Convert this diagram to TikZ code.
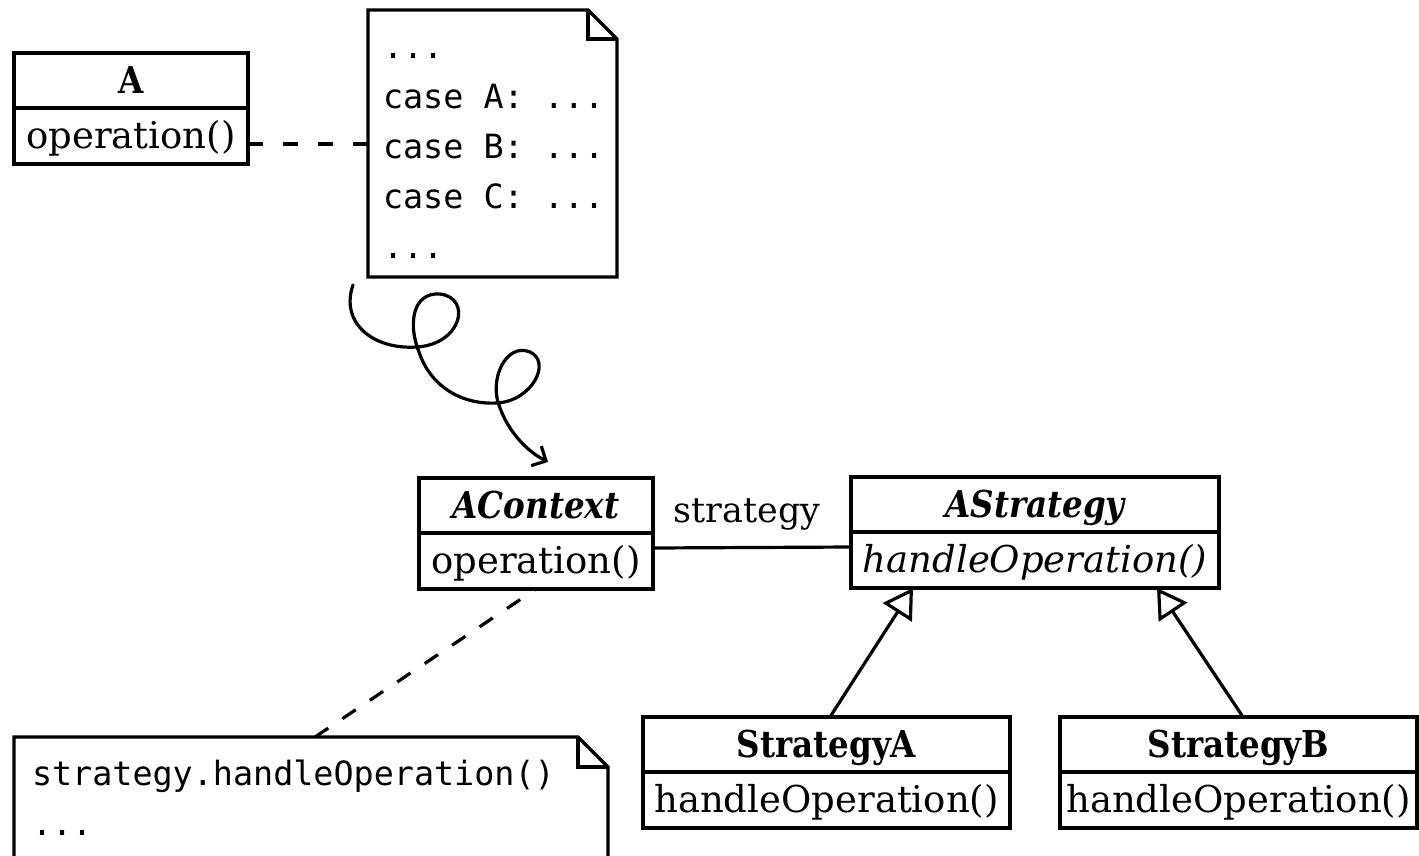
\documentclass[tikz,border=0pt]{standalone}
\usepackage{fontspec}
\setmainfont{DejaVu Serif}
\setmonofont{DejaVu Sans Mono}
\newfontfamily\titlefont[FakeStretch=0.88]{DejaVu Serif}
\usetikzlibrary{arrows.meta}

% struts that fix the baselines inside class compartments and notes
\newcommand\cstrut{\rule[-15pt]{0pt}{55pt}}
\newcommand\nstrut{\rule[-10.5pt]{0pt}{50pt}}
\newcommand\mstrut{\rule[-14pt]{0pt}{50pt}}
% one full monospace cell of blank space
\newcommand\msp{\hphantom{x}}

% outline of a UML note with a folded top-right corner
\newcommand\noteoutline[2]{%
  \draw[ink] (#1.north west) -- ([xshift=-#2]#1.north east)
    -- ([yshift=-#2]#1.north east) -- (#1.south east)
    -- (#1.south west) -- cycle;
  \draw[ink] ([xshift=-#2]#1.north east) |- ([yshift=-#2]#1.north east);}

\tikzset{
  ink/.style={line width=3.2pt, line join=miter},
  compartment/.style={draw, ink, inner sep=0pt, outer sep=0pt,
    minimum height=#1, anchor=north west,
    font=\fontsize{37}{40}\selectfont},
  titlepart/.style={compartment=55pt,
    font=\titlefont\bfseries\fontsize{37}{40}\selectfont},
  oppart/.style={compartment=56pt},
  notebody/.style={inner xsep=17pt, inner ysep=0pt, outer sep=0pt,
    anchor=north west, align=left,
    font=\ttfamily\fontsize{33.4}{50}\selectfont},
  depline/.style={ink, dash pattern=on 15pt off 20pt},
  ctxline/.style={ink, dash pattern=on 16pt off 17pt},
  assoc/.style={ink},
  generalize/.style={ink, -{Triangle[open, length=29pt, width=34pt]}},
  twist/.style={ink, line cap=round, -{Straight Barb[length=11pt, width=22pt]}},
  rolename/.style={anchor=base, font=\fontsize{35}{40}\selectfont},
}

\begin{document}
\begin{tikzpicture}[x=1pt, y=-1pt]
\useasboundingbox (0,0) rectangle (1419,855);
\clip (0,0) rectangle (1419,855);

% class A
\node[titlepart, minimum width=234pt] (aT) at (14,53) {\cstrut A};
\node[oppart, minimum width=234pt] (aB) at (aT.south west) {\cstrut operation()};

% note with the switch statement
\node[notebody, inner xsep=15pt, text width=219pt, minimum height=267pt] (nt1) at (368,10)
  {\nstrut...\\\nstrut case\msp A:\msp...\\\nstrut case\msp B:\msp...\\
   \nstrut case\msp C:\msp...\\\nstrut...};
\noteoutline{nt1}{29pt}

\coordinate (aDep) at ([yshift=-8pt]aB.east);
\draw[depline] (aDep -| nt1.west) -- (aDep);

% context class
\node[titlepart, minimum width=234pt] (ctxT) at (419,478) {\cstrut\itshape AContext};
\node[oppart, minimum width=234pt] (ctxB) at (ctxT.south west) {\cstrut operation()};

% strategy hierarchy
\node[titlepart, minimum width=368pt] (asT) at (851,477) {\cstrut\itshape AStrategy};
\node[oppart, minimum width=368pt] (asB) at (asT.south west) {\cstrut\itshape handleOperation()};

\node[titlepart, minimum width=367pt] (saT) at (643,717) {\cstrut StrategyA};
\node[oppart, minimum width=367pt] (saB) at (saT.south west) {\cstrut handleOperation()};

\node[titlepart, minimum width=357pt] (sbT) at (1060,717) {\cstrut StrategyB};
\node[oppart, minimum width=357pt] (sbB) at (sbT.south west) {\cstrut handleOperation()};

% association with role name
\draw[assoc] ([yshift=-15pt]ctxB.north east) -- ([yshift=-15pt]asB.north west);
\node[rolename] (role) at (747,522) {strategy};

% generalizations
\draw[generalize] ([xshift=187pt]saT.north west) -- ([xshift=62pt]asB.south west);
\draw[generalize] ([xshift=183pt]sbT.north west) -- ([xshift=306pt]asB.south west);

% note attached to the context operation
\node[notebody, text width=558pt, inner xsep=18pt, inner ysep=12pt] (nt2) at (14,737)
  {\mstrut strategy.handleOperation()\\\mstrut...};
\noteoutline{nt2}{30pt}
\draw[ctxline] ([xshift=301pt]nt2.north west) -- (ctxB.south);

% curly refactoring arrow from the switch note to the context
\coordinate (curlstart) at (353,285);
\coordinate (curlend) at ([shift={(12,-16)}]ctxT.north);
\draw[twist] (curlstart)
  .. controls (340,322) and (372,350) .. (417,347)
  .. controls (462,344) and (472,298) .. (440,294)
  .. controls (412,292) and (408,325) .. (419,352)
  .. controls (430,385) and (460,405) .. (497,403)
  .. controls (532,401) and (552,362) .. (530,352)
  .. controls (506,342) and (488,380) .. (500,408)
  .. controls (508,430) and (525,450) .. (curlend);
\end{tikzpicture}
\end{document}
